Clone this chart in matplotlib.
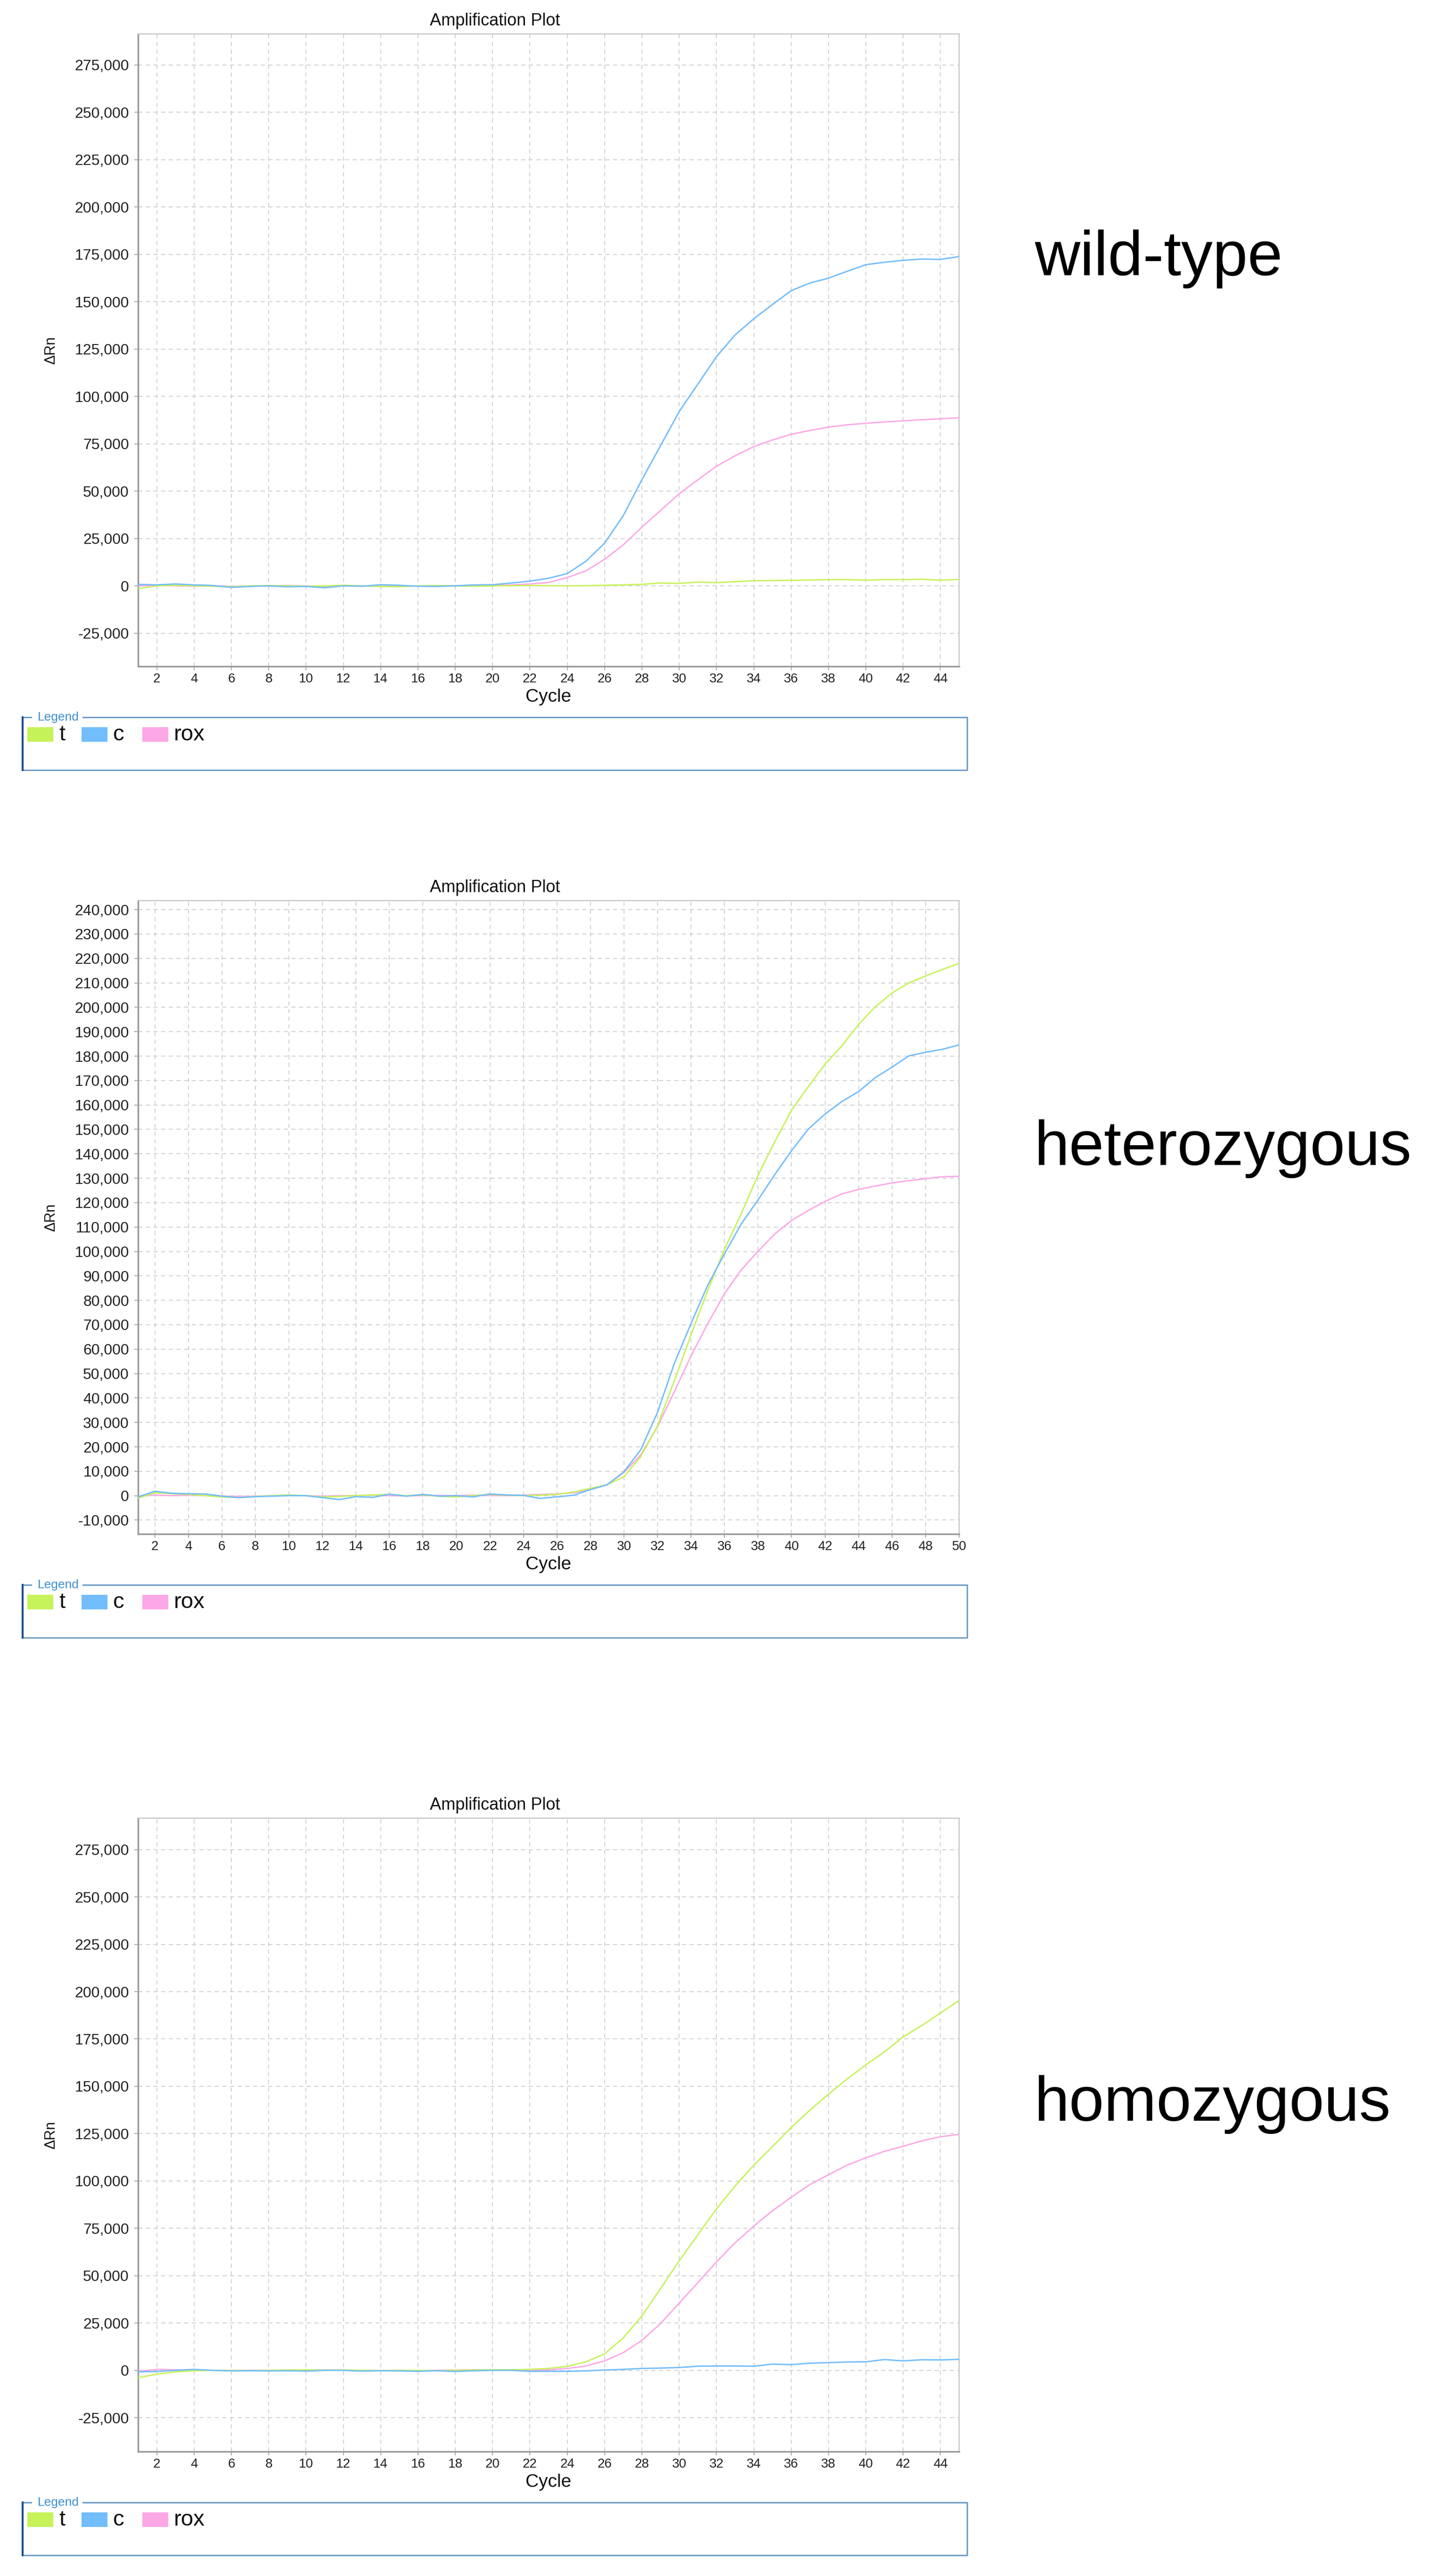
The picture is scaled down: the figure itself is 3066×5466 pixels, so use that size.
import matplotlib
matplotlib.use("Agg")
import matplotlib.pyplot as plt
from matplotlib.patches import Rectangle
from matplotlib.lines import Line2D

plt.rcParams['font.family'] = ['Liberation Sans', 'DejaVu Sans']

W, H = 3066, 5466
DPI = 100

series_names = ["t", "c", "rox"]
series_colors = ["#c6f25a", "#72bdfb", "#fda8e6"]

cycles_45 = list(range(1, 46))
cycles_50 = list(range(1, 51))

# wild-type
wt_t = [-1500, 0, 300, 0, -200, -500, 0, 200, 0, -200, 0, 300, 0, -300, -500,
        0, 200, 0, -200, 0, 100, 200, 100, 0, 100, 300, 500, 800, 1500, 1300,
        2000, 1700, 2200, 2700, 2800, 2900, 3100, 3300, 3300, 3000, 3300, 3300,
        3500, 3000, 3400]
wt_c = [800, 500, 1000, 500, 200, -800, -300, 0, -500, -300, -1000, 0, -200,
        600, 300, -200, -300, 0, 500, 600, 1500, 2500, 4000, 6500, 13000, 22500,
        37000, 56000, 74000, 92000, 106500, 121000, 132500, 141000, 148500,
        155800, 159800, 162400, 166000, 169500, 170800, 171800, 172500, 172300,
        173800]
wt_rox = [0, 200, 0, -200, 0, -300, -200, 0, 200, -100, -300, 200, 0, -200, 0,
          -100, 0, 100, 100, 200, 500, 1000, 1800, 4400, 7900, 14000, 21600,
          31000, 39800, 48600, 56000, 63100, 68700, 73500, 77000, 80000, 82000,
          83800, 85000, 85800, 86500, 87100, 87700, 88200, 88700]

# heterozygous
het_t = [-1000, 1200, 800, 500, 0, -500, -800, -300, 0, 300, 0, -500, -300, 0,
         300, 500, 0, 300, -300, -500, 0, 500, 200, 0, 200, 500, 1500, 3000,
         4500, 7800, 16000, 28600, 47000, 65800, 84100, 101000, 115500, 131300,
         145000, 157900, 167500, 176700, 184200, 193000, 200200, 205900, 210000,
         212800, 215500, 218000]
het_c = [-500, 1800, 1000, 800, 700, -200, -800, -400, -200, 0, 0, -800, -1600,
         -400, -700, 600, -200, 500, -200, 0, -500, 700, 300, 100, -1100, -500,
         200, 2500, 4500, 9800, 18800, 34100, 54100, 70500, 86200, 99100, 111300,
         121100, 131500, 141300, 150100, 156300, 161400, 165500, 171200, 175500,
         180100, 181600, 182800, 184600]
het_rox = [-300, 300, 0, 200, 0, -200, -300, -200, 0, 100, 0, -200, 0, 0, 200, 0,
           -100, 0, 100, 0, 200, 100, 0, 200, 500, 700, 1200, 2500, 4500, 9500,
           16700, 28200, 42500, 57200, 70500, 82700, 92500, 100100, 107200,
           112700, 116800, 120500, 123600, 125400, 126800, 128100, 129000,
           129800, 130600, 130800]

# homozygous
hom_t = [-3900, -2000, -800, -200, 0, 0, -200, 0, 200, 300, 100, 200, 0, -100, 0,
         0, -200, 0, 200, 300, 300, 500, 1000, 2100, 4500, 8700, 17100, 28700,
         43200, 57900, 71600, 85300, 97400, 108400, 118200, 128200, 137400,
         145800, 153900, 161300, 168200, 176100, 182100, 188700, 195300]
hom_c = [-800, -600, 0, 500, 0, -300, -200, -300, -200, -400, 0, 0, -400, -200,
         -300, -500, -200, -600, -200, 0, 0, -500, -500, -500, -300, 200, 500,
         1000, 1200, 1500, 2200, 2300, 2300, 2200, 3300, 3000, 3800, 4100, 4400,
         4500, 5700, 5000, 5600, 5500, 5800]
hom_rox = [-500, 500, 300, 200, 0, -200, 0, 0, -200, 0, 200, 0, 0, -200, 0, -300,
           0, 200, 300, 0, 200, 0, 300, 1000, 2300, 5000, 9300, 15800, 24700,
           35500, 46300, 57300, 67400, 76200, 84300, 91400, 98100, 103300,
           108400, 112200, 115700, 118300, 121200, 123400, 124600]

genotypes = ["wild-type", "heterozygous", "homozygous"]
y_ticks_wt = list(range(-25000, 275001, 25000))
y_ticks_het = list(range(-10000, 240001, 10000))

panels = [
    dict(cycles=cycles_45, series=(wt_t, wt_c, wt_rox), yticks=y_ticks_wt,
         ylim=(-42500, 291300), top=72, bottom=1414, legend_top=1522,
         label_base=584),
    dict(cycles=cycles_50, series=(het_t, het_c, het_rox), yticks=y_ticks_het,
         ylim=(-15700, 243700), top=1911, bottom=3255, legend_top=3363,
         label_base=2472),
    dict(cycles=cycles_45, series=(hom_t, hom_c, hom_rox), yticks=y_ticks_wt,
         ylim=(-42900, 291600), top=3858, bottom=5202, legend_top=5310,
         label_base=4500),
]

AX_L, AX_R = 293, 2035
LEG_L, LEG_R, LEG_H = 48, 2052, 112
swatch_x = [58, 173, 302]

fig = plt.figure(figsize=(W / DPI, H / DPI), dpi=DPI)
fig.patch.set_facecolor("white")

# overlay in pixel coordinates for titles, labels and legend boxes
ov = fig.add_axes([0, 0, 1, 1], zorder=5)
ov.set_xlim(0, W)
ov.set_ylim(H, 0)
ov.axis("off")
ov.patch.set_alpha(0)

for name, p in zip(genotypes, panels):
    ax = fig.add_axes([AX_L / W, 1 - p["bottom"] / H, (AX_R - AX_L) / W,
                       (p["bottom"] - p["top"]) / H])
    cyc = p["cycles"]
    for i in [2, 0, 1]:
        ax.plot(cyc, p["series"][i], color=series_colors[i], lw=2.1,
                solid_joinstyle="round", zorder=3)
    ax.set_xlim(cyc[0], cyc[-1])
    ax.set_ylim(*p["ylim"])
    xt = [c for c in cyc if c % 2 == 0]
    ax.set_xticks(xt)
    ax.set_xticklabels([str(c) for c in xt])
    ax.set_yticks(p["yticks"])
    ax.set_yticklabels([f"{v:,}" for v in p["yticks"]])
    ax.grid(True, color="#cfcfcf", lw=1.3, linestyle=(0, (5, 4)))
    ax.set_axisbelow(True)
    ax.tick_params(axis="y", direction="out", length=5.8, width=1.2,
                   color="#999999", labelsize=23, labelcolor="#222222", pad=8)
    ax.tick_params(axis="x", direction="out", length=5.8, width=1.2,
                   color="#999999", labelsize=20, labelcolor="#222222", pad=4)
    for s in ("left", "bottom"):
        ax.spines[s].set_color("#9a9a9a")
        ax.spines[s].set_linewidth(2.5)
    for s in ("top", "right"):
        ax.spines[s].set_color("#c4c4c4")
        ax.spines[s].set_linewidth(1.7)

    ov.text(1050, p["top"] - 28, "Amplification Plot", fontsize=26,
            ha="center", va="center", color="#111111")
    ov.text((AX_L + AX_R) / 2, p["bottom"] + 65, "Cycle", fontsize=28,
            ha="center", va="center", color="#111111")
    ov.text(108, (p["top"] + p["bottom"]) / 2, "ΔRn", fontsize=22,
            rotation=90, ha="center", va="center", color="#111111")

    ov.text(2195, p["label_base"], name, fontsize=96, ha="left",
            va="baseline", color="black")

    # legend box
    lt = p["legend_top"]
    lb = lt + LEG_H
    ov.add_line(Line2D([LEG_L, 66], [lt, lt], color="#6e9ec6", lw=2.2))
    ov.add_line(Line2D([176, LEG_R, LEG_R, LEG_L], [lt, lt, lb, lb],
                       color="#6e9ec6", lw=2.2))
    ov.add_line(Line2D([LEG_L, LEG_L], [lt, lb], color="#1d4f91", lw=3.0))
    ov.text(80, lt, "Legend", fontsize=19, ha="left", va="center",
            color="#3d8fd0")
    for sx, nm, col in zip(swatch_x, series_names, series_colors):
        ov.add_patch(Rectangle((sx, lt + 21), 55, 31, facecolor=col,
                               edgecolor="none"))
        ov.text(sx + 67, lt + 37, nm, fontsize=34, ha="left", va="center",
                color="#111111")

fig.savefig("out.png", dpi=DPI, facecolor="white")
